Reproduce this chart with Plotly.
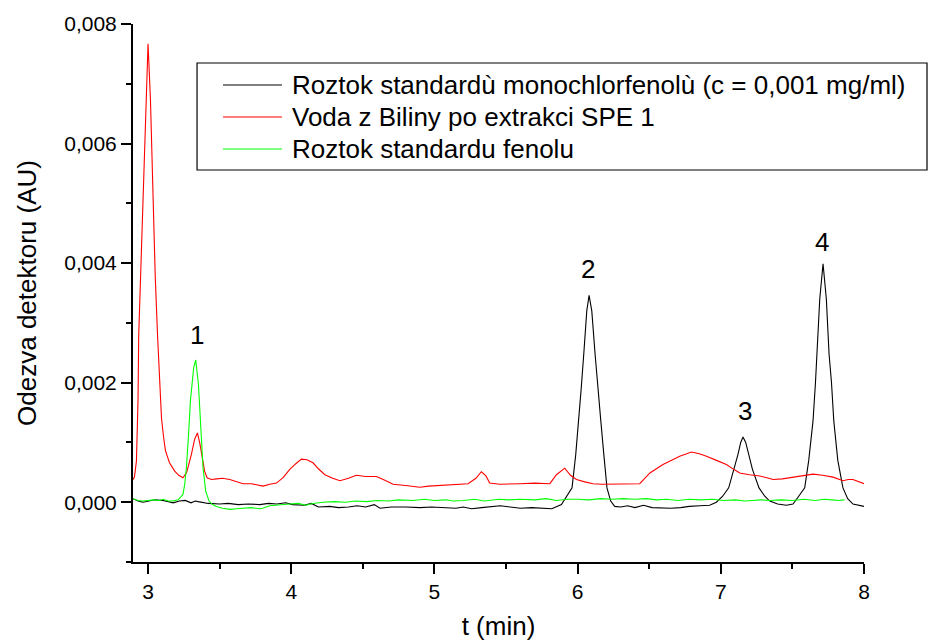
import plotly.graph_objects as go

# ---------------- data ----------------
series_names = [
    "Roztok standardù monochlorfenolù (c = 0,001 mg/ml)",
    "Voda z Biliny po extrakci SPE 1",
    "Roztok standardu fenolu",
]
series_colors = ["#000000", "#FF0000", "#00FF00"]

black_t = [2.893, 2.93, 2.965, 3.0, 3.05, 3.105, 3.15, 3.175, 3.22, 3.26, 3.30, 3.33, 3.35,
           3.42, 3.50, 3.56, 3.63, 3.70, 3.78, 3.84, 3.90, 3.96, 4.01, 4.09, 4.14, 4.19, 4.27,
           4.33, 4.40, 4.46, 4.52, 4.58, 4.62, 4.70, 4.80, 4.90, 4.98, 5.06, 5.15, 5.20, 5.26,
           5.33, 5.40, 5.46, 5.53, 5.60, 5.68, 5.75, 5.82, 5.887, 5.924, 5.961, 5.987, 6.008,
           6.025, 6.043, 6.064, 6.080, 6.099, 6.122, 6.140, 6.162, 6.183, 6.205, 6.231, 6.259,
           6.30, 6.35, 6.40, 6.46, 6.52, 6.58, 6.65, 6.72, 6.78, 6.853, 6.922, 6.969, 7.013,
           7.055, 7.092, 7.120, 7.139, 7.155, 7.174, 7.195, 7.221, 7.267, 7.307, 7.342, 7.397,
           7.458, 7.504, 7.544, 7.586, 7.614, 7.644, 7.661, 7.672, 7.691, 7.714, 7.737, 7.756,
           7.773, 7.789, 7.817, 7.853, 7.886, 7.923, 7.956, 8.0]
black_au = [0.00006, 0.00002, 0.0, 0.00002, 0.00004, 0.00003, 0.00001, -0.00001, 0.00002,
            0.00003, -0.00001, 0.00002, 0.00001, -0.00002, -0.00003, -0.00002, -0.00004,
            -0.00003, -0.00004, -0.00002, -0.00003, -0.00001, -0.00004, -0.00005, -0.00002,
            -0.00008, -0.00007, -0.00009, -0.00008, -0.00006, -0.00008, -0.00004, -0.0001,
            -0.00008, -0.00008, -0.00009, -0.00008, -0.00009, -0.0001, -0.00008, -0.00011,
            -0.00009, -0.00008, -0.00006, -0.00008, -0.0001, -0.00009, -0.0001, -0.00011,
            -0.00004, 0.0001, 0.00024, 0.0008, 0.00136, 0.0019, 0.00248, 0.0032, 0.00346,
            0.0032, 0.00248, 0.0019, 0.00136, 0.0008, 0.00024, 0.00002, -0.00007, -0.00008,
            -0.00006, -0.00009, -0.00005, -0.00009, -0.0001, -0.0001, -0.00009, -0.00007,
            -0.00006, -0.00005, 0.0, 0.0001, 0.00024, 0.00055, 0.0008, 0.001, 0.00109, 0.001,
            0.0008, 0.00055, 0.00024, 0.0001, 0.00002, -0.00003, -0.00005, -0.00003, 0.0001,
            0.00024, 0.0007, 0.00136, 0.002, 0.00248, 0.0034, 0.00399, 0.0034, 0.00248, 0.002,
            0.00136, 0.0007, 0.00024, 0.00006, -0.00003, -0.00005, -0.00007]

red_t = [2.893, 2.905, 2.919, 2.930, 2.935, 2.950, 2.965, 2.984, 3.000, 3.017, 3.035, 3.050,
         3.066, 3.080, 3.094, 3.108, 3.122, 3.150, 3.186, 3.215, 3.244, 3.270, 3.303, 3.325,
         3.345, 3.362, 3.380, 3.395, 3.412, 3.443, 3.48, 3.52, 3.571, 3.62, 3.663, 3.72, 3.76,
         3.803, 3.85, 3.897, 3.943, 3.99, 4.03, 4.071, 4.11, 4.152, 4.19, 4.235, 4.29, 4.34,
         4.40, 4.455, 4.52, 4.595, 4.65, 4.711, 4.80, 4.897, 4.96, 5.03, 5.13, 5.235, 5.29,
         5.328, 5.36, 5.386, 5.456, 5.52, 5.596, 5.70, 5.806, 5.852, 5.91, 5.95, 5.992, 6.05,
         6.108, 6.17, 6.224, 6.33, 6.434, 6.505, 6.596, 6.713, 6.795, 6.85, 6.90, 6.97, 7.039,
         7.09, 7.132, 7.20, 7.272, 7.32, 7.365, 7.43, 7.504, 7.57, 7.644, 7.71, 7.784, 7.853,
         7.89, 7.923, 7.96, 8.0]
red_au = [0.00037, 0.00042, 0.00069, 0.0017, 0.0028, 0.0040, 0.00505, 0.00673, 0.00767,
          0.00673, 0.00505, 0.0038, 0.00281, 0.0020, 0.00141, 0.0011, 0.00086, 0.00066,
          0.00052, 0.00045, 0.00041, 0.00050, 0.00080, 0.00105, 0.00116, 0.00098, 0.00069,
          0.00052, 0.00041, 0.00038, 0.00039, 0.00040, 0.00038, 0.00034, 0.00031, 0.00031,
          0.00029, 0.00027, 0.00030, 0.00032, 0.00041, 0.00055, 0.00064, 0.00072, 0.00071,
          0.00066, 0.00056, 0.00046, 0.00040, 0.00036, 0.00040, 0.00045, 0.00043, 0.00043,
          0.00037, 0.00030, 0.00028, 0.00025, 0.00027, 0.00028, 0.00030, 0.00031, 0.00040,
          0.00051, 0.00044, 0.00032, 0.00030, 0.00031, 0.00031, 0.00032, 0.00031, 0.00046,
          0.00057, 0.00045, 0.00038, 0.00034, 0.00031, 0.00030, 0.00030, 0.00031, 0.00031,
          0.00049, 0.00063, 0.00077, 0.00084, 0.00081, 0.00077, 0.00070, 0.00063, 0.00055,
          0.00049, 0.00046, 0.00044, 0.00041, 0.00038, 0.00039, 0.00042, 0.00045, 0.00047,
          0.00045, 0.00042, 0.00036, 0.00038, 0.00038, 0.00034, 0.00031]

green_t = [2.893, 2.93, 2.965, 3.0, 3.04, 3.08, 3.105, 3.14, 3.175, 3.21, 3.244, 3.256, 3.268,
           3.282, 3.296, 3.319, 3.333, 3.352, 3.368, 3.384, 3.403, 3.426, 3.45, 3.478, 3.52,
           3.571, 3.62, 3.67, 3.72, 3.78, 3.80, 3.85, 3.92, 3.99, 4.05, 4.10, 4.152, 4.22, 4.30,
           4.38, 4.45, 4.53, 4.60, 4.68, 4.75, 4.85, 4.93, 5.0, 5.08, 5.13, 5.20, 5.28, 5.35,
           5.45, 5.52, 5.60, 5.70, 5.78, 5.85, 5.93, 6.00, 6.08, 6.16, 6.24, 6.32, 6.40, 6.48,
           6.55, 6.62, 6.70, 6.78, 6.86, 6.94, 7.02, 7.10, 7.17, 7.22, 7.28, 7.34, 7.42, 7.50,
           7.58, 7.66, 7.72, 7.78, 7.82, 7.864]
green_au = [0.00006, 0.00003, 0.00002, 0.00003, 0.00004, 0.00003, 0.00005, 0.00002, 0.00002,
            0.00004, 0.00013, 0.0003, 0.00058, 0.0011, 0.0017, 0.00225, 0.00238, 0.00197,
            0.00114, 0.00058, 0.00018, 0.00002, -0.00004, -0.00007, -0.0001, -0.00012,
            -0.00011, -0.0001, -0.00009, -0.00011, -0.0001, -0.00006, -0.00004, -0.00003,
            -0.00002, -0.00005, -0.00002, 0.0, 0.00001, 0.0, 0.00002, 0.00001, 0.00003,
            0.00002, 0.00004, 0.00003, 0.00005, 0.00003, 0.00004, 0.00002, 0.00003, 0.00005,
            0.00002, 0.00005, 0.00004, 0.00005, 0.00004, 0.00006, 0.00003, 0.00005, 0.00005,
            0.00004, 0.00006, 0.00005, 0.00006, 0.00005, 0.00006, 0.00004, 0.00005, 0.00003,
            0.00005, 0.00004, 0.00005, 0.00003, 0.00004, 0.00002, 0.00003, 0.00004, 0.00003,
            0.00004, 0.00003, 0.00005, 0.00003, 0.00005, 0.00004, 0.00003, 0.00004]

peak_labels = ["1", "2", "3", "4"]
peak_t = [3.34, 6.07, 7.167, 7.704]
peak_au = [0.0028, 0.0039, 0.00153, 0.00436]

x_title = "t (min)"
y_title = "Odezva detektoru (AU)"

FONT = "Liberation Sans, Arial, sans-serif"

# ---------------- figure ----------------
fig = go.Figure()
for name, color, t, v in zip(series_names, series_colors,
                             [black_t, red_t, green_t], [black_au, red_au, green_au]):
    fig.add_trace(go.Scatter(x=t, y=v, mode="lines", name=name,
                             line=dict(color=color, width=1.1), showlegend=False))

for lab, t, v in zip(peak_labels, peak_t, peak_au):
    fig.add_annotation(x=t, y=v, text=lab, showarrow=False,
                       font=dict(size=26, color="black", family=FONT))

# custom legend box (Origin style, long line samples)
leg_x0, leg_x1, leg_y0, leg_y1 = 0.0876, 1.0862, 0.7286, 0.9275
fig.add_shape(type="rect", xref="paper", yref="paper", x0=leg_x0, x1=leg_x1,
              y0=leg_y0, y1=leg_y1, line=dict(color="black", width=1.2),
              fillcolor="white", layer="above")
row_y = [0.8866, 0.8271, 0.7677]
for name, color, ry in zip(series_names, series_colors, row_y):
    fig.add_shape(type="line", xref="paper", yref="paper", x0=0.1231, x1=0.2038,
                  y0=ry, y1=ry, line=dict(color=color, width=1.1), layer="above")
    fig.add_annotation(xref="paper", yref="paper", x=0.2148, y=ry, text=name,
                       showarrow=False, xanchor="left", yanchor="middle",
                       font=dict(size=26, color="black", family=FONT))

fig.update_layout(
    width=931, height=641,
    margin=dict(l=133, r=67, t=24, b=79, autoexpand=False),
    plot_bgcolor="white", paper_bgcolor="white",
    separators=", ",
    font=dict(family=FONT, color="black"),
    showlegend=False,
)
fig.update_xaxes(
    automargin=False,
    range=[2.895, 8.0], tick0=3, dtick=1, ticks="outside", ticklen=10, tickwidth=2,
    tickcolor="black", showline=True, linewidth=2, linecolor="black",
    showgrid=False, zeroline=False, tickfont=dict(size=21),
    minor=dict(dtick=0.5, ticks="outside", ticklen=5, tickwidth=2, tickcolor="black",
               showgrid=False),
    title=dict(text=x_title, font=dict(size=26), standoff=18),
)
fig.update_yaxes(
    automargin=False,
    range=[-0.001, 0.008], tick0=0, dtick=0.002, tickformat=".3f", ticks="outside",
    ticklen=10, tickwidth=2, tickcolor="black", showline=True, linewidth=2,
    linecolor="black", showgrid=False, zeroline=False, tickfont=dict(size=21),
    minor=dict(dtick=0.001, ticks="outside", ticklen=5, tickwidth=2, tickcolor="black",
               showgrid=False),
    title=dict(text=y_title, font=dict(size=26), standoff=20),
)

fig.write_html("out.html")
